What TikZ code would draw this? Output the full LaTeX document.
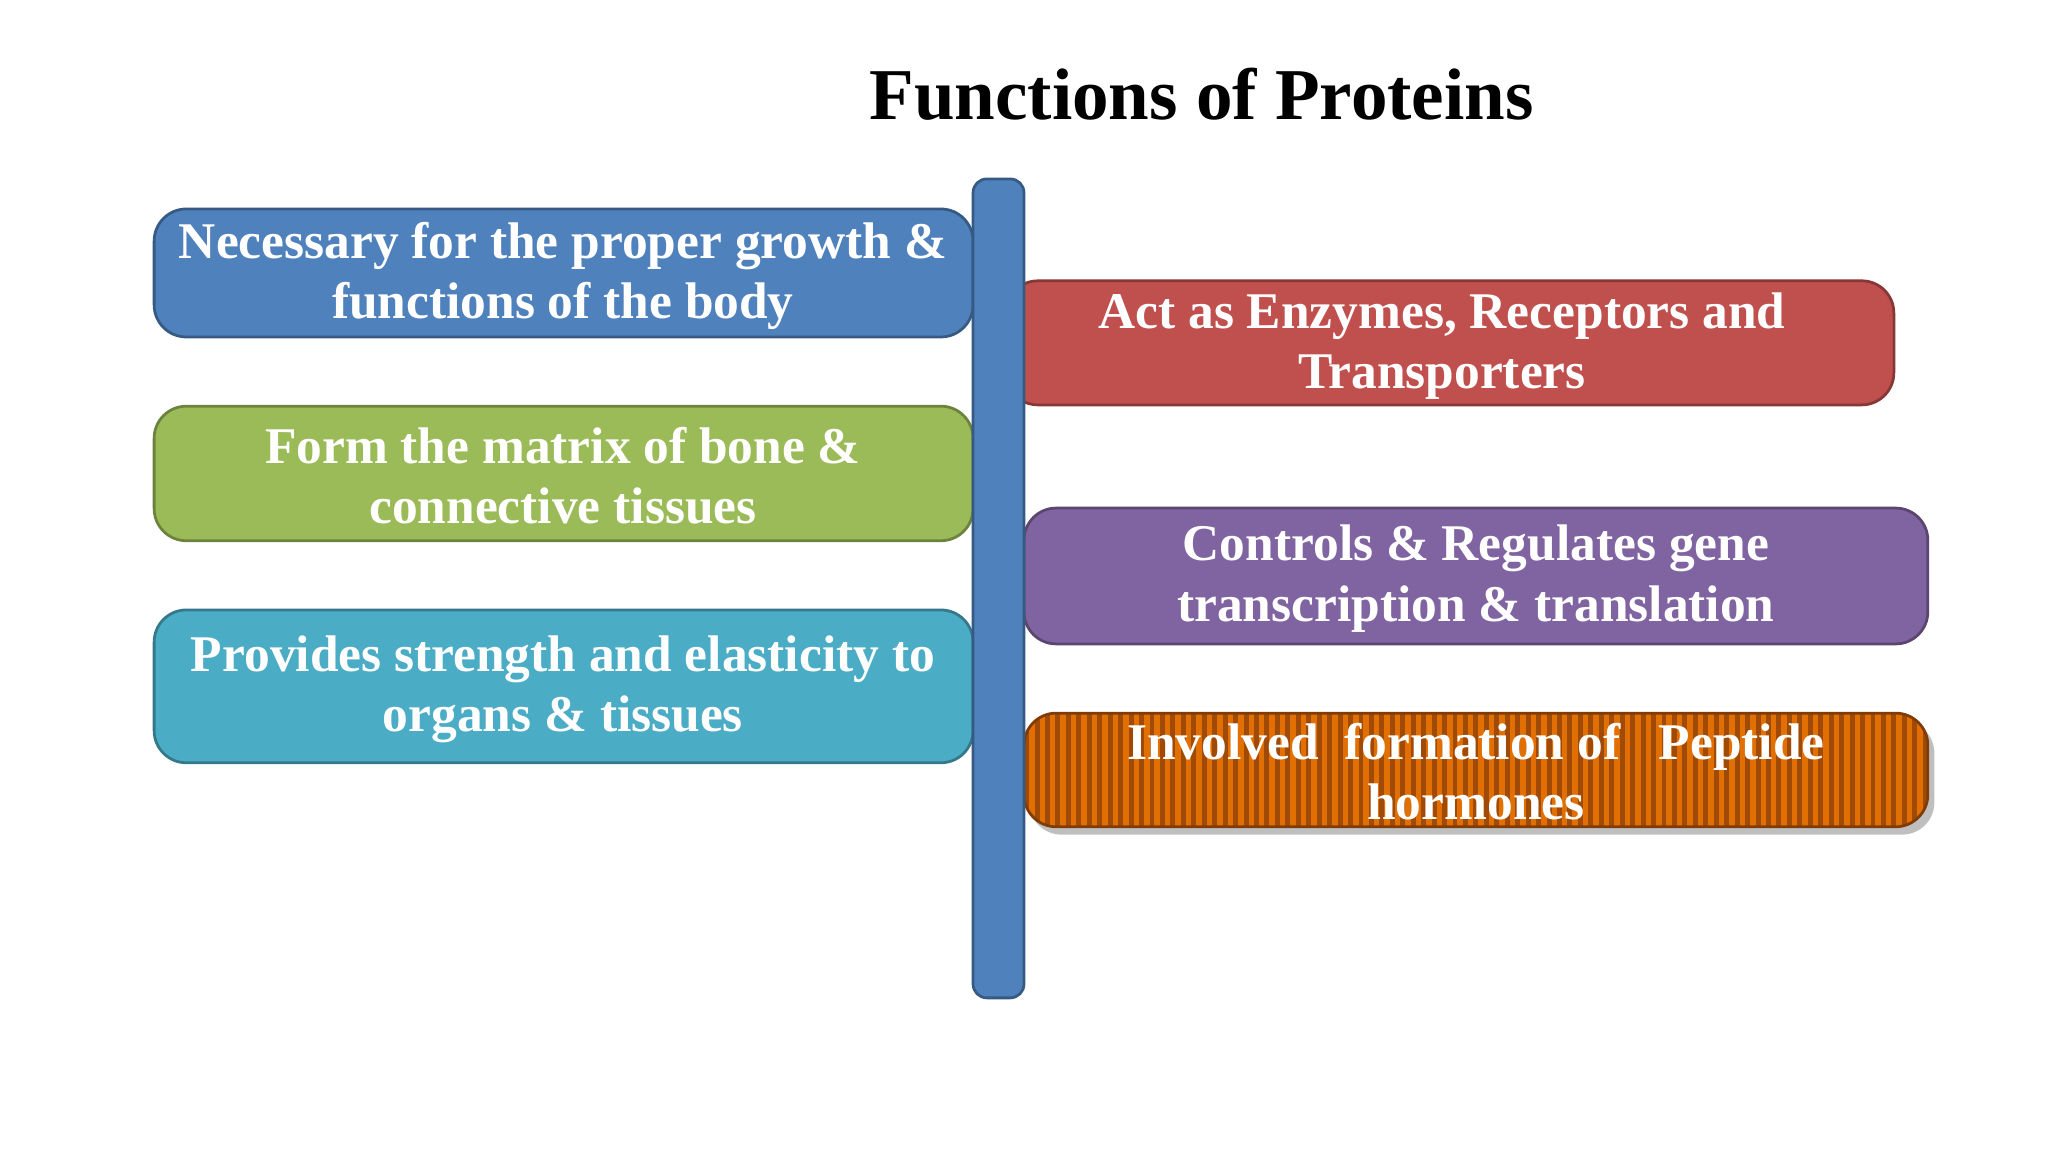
\documentclass[tikz,border=0pt]{standalone}
\usepackage{fontspec}
\setmainfont{Liberation Serif}
\begin{document}
\begin{tikzpicture}[x=0.01cm,y=-0.01cm,
 box/.style={rounded corners=7pt,draw=#1!70!black,fill=#1,line width=0.6pt},
 txt/.style={text=white,font=\bfseries\fontsize{11.2}{13.1}\selectfont,align=center}]
\definecolor{cblue}{HTML}{4F81BD}\definecolor{cgreen}{HTML}{9BBB59}
\definecolor{cteal}{HTML}{4BACC6}\definecolor{cred}{HTML}{C0504D}
\definecolor{cpurp}{HTML}{8064A2}\definecolor{corange}{HTML}{A04A08}
\useasboundingbox (0,0) rectangle (1568,882);
\fill[white] (0,0) rectangle (1568,882);
\node[font=\bfseries\fontsize{15.9}{18}\selectfont] (title) at (920,72) {Functions of Proteins};
\draw[box=cblue] (118,160) rectangle (745,258);
\node[txt] (l1) at (431,211) {Necessary for the proper growth \&\\functions of the body};
\draw[box=cgreen] (118,311) rectangle (745,414);
\node[txt] (l2) at (431,364) {Form the matrix of bone \&\\connective tissues};
\draw[box=cteal] (118,467) rectangle (745,584);
\node[txt] (l3) at (431,528) {Provides strength and elasticity to\\organs \& tissues};
\draw[box=cred] (770,215) rectangle (1450,310);
\node[txt] (r1) at (1104,265) {Act as Enzymes, Receptors and\\Transporters};
\draw[box=cpurp] (784,389) rectangle (1476,493);
\node[txt] (r2) at (1130,443) {Controls \& Regulates gene\\transcription \& translation};
\fill[black!25,rounded corners=7pt] (788,552) rectangle (1481,639);
\begin{scope}
\clip[rounded corners=7pt] (784,546) rectangle (1476,633);
\fill[corange] (784,546) rectangle (1476,633);
\foreach \x in {790,798,...,1476} \draw[orange!70!corange,line width=1.2pt] (\x,546) -- (\x,633);
\end{scope}
\draw[corange!80!black,rounded corners=7pt,line width=0.6pt] (784,546) rectangle (1476,633);
\node[txt] (r3) at (1130,591) {Involved\ \ formation of\ \ \ Peptide\\hormones};
\draw[box=cblue,rounded corners=3pt] (745,137) rectangle (784,764);
\end{tikzpicture}
\end{document}
